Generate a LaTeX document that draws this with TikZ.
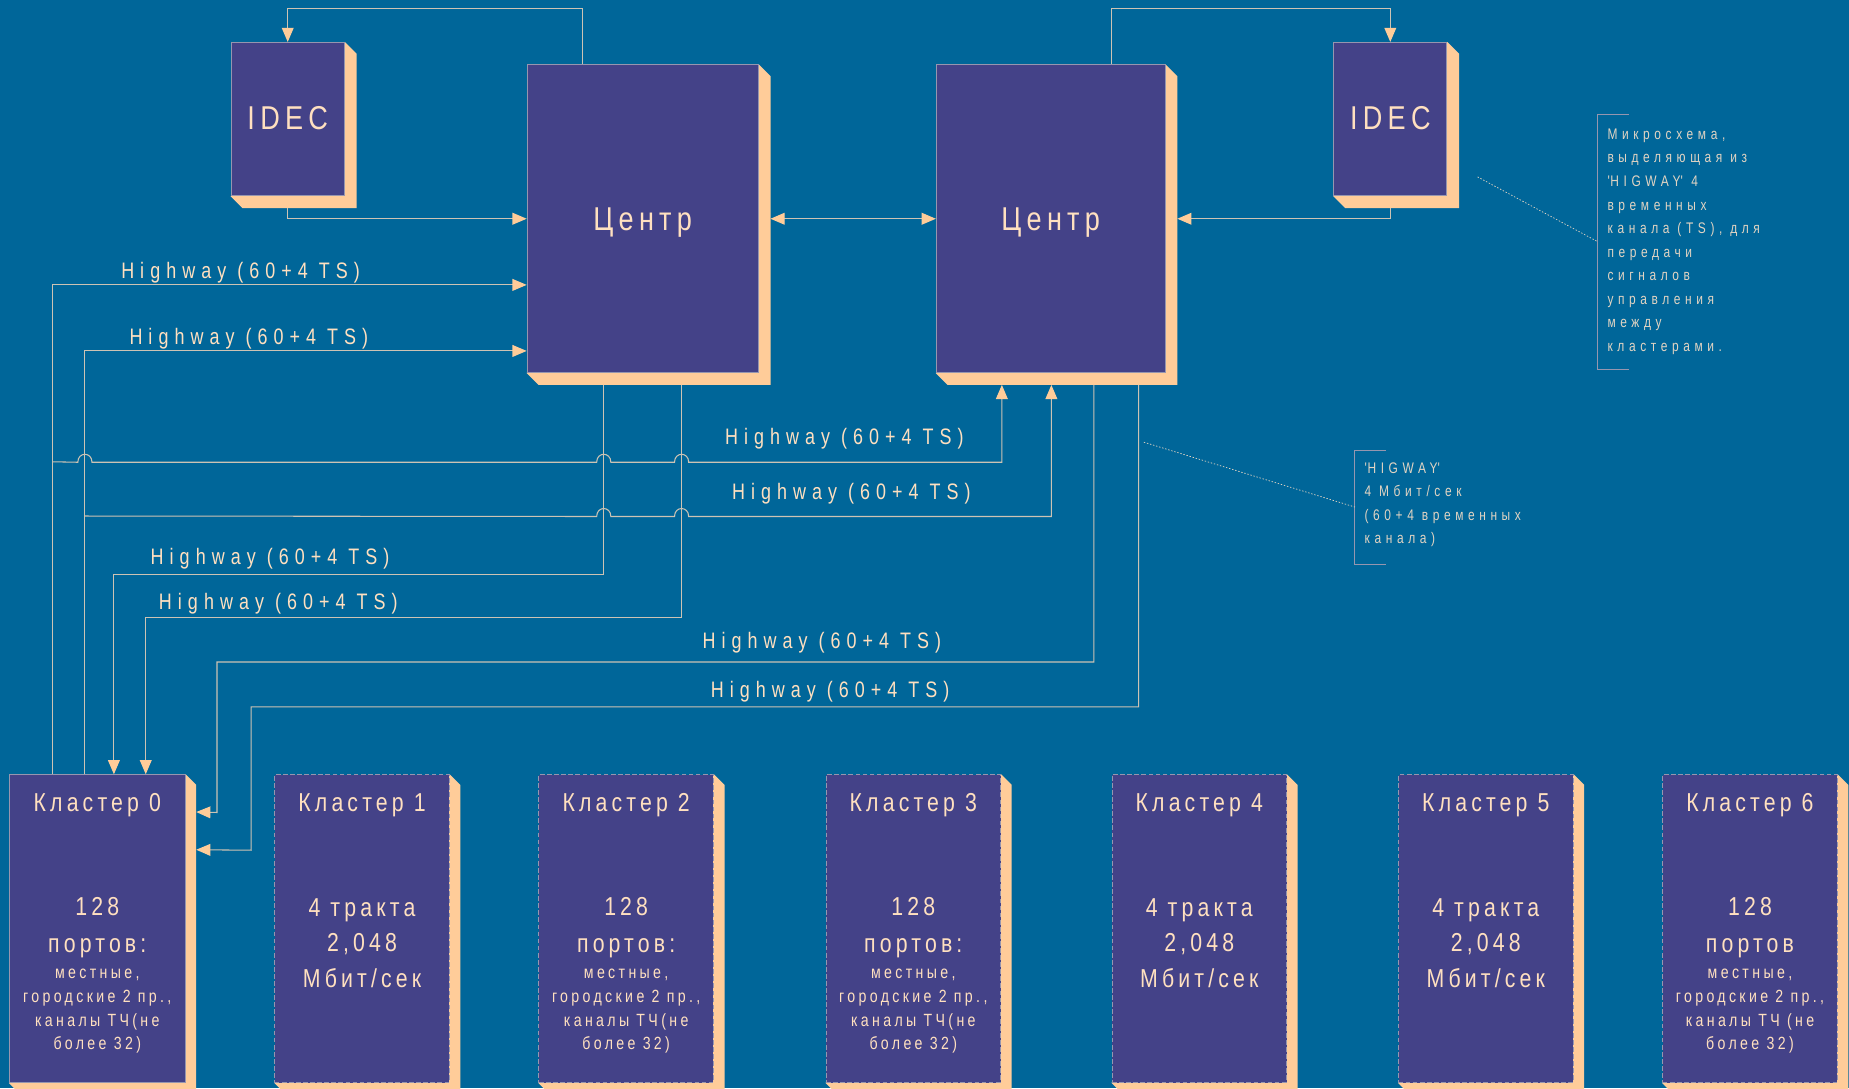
\documentclass[tikz,border=0pt]{standalone}
\usepackage{fontspec}
\setmainfont{Liberation Sans}
\newfontfamily\wf[FakeStretch=0.82,LetterSpace=16]{Liberation Sans}
\newfontfamily\hwyf[FakeStretch=0.80,LetterSpace=27]{Liberation Sans}
\newfontfamily\smf[FakeStretch=0.80,LetterSpace=19]{Liberation Sans}
\newfontfamily\nf[FakeStretch=0.78,LetterSpace=30]{Liberation Sans}
\usetikzlibrary{arrows.meta,calc}
\definecolor{bgblue}{RGB}{0,102,153}
\definecolor{boxfill}{RGB}{68,66,136}
\definecolor{peach}{RGB}{255,204,153}
\definecolor{txt}{RGB}{255,224,192}
\definecolor{wire}{RGB}{205,195,180}
\definecolor{edgec}{RGB}{150,150,175}
\definecolor{notec}{RGB}{225,212,195}
\pgfdeclarelayer{bglayer}
\pgfdeclarelayer{shlayer}
\pgfsetlayers{bglayer,shlayer,main}
\newcommand\boxshadow[2]{%
  \begin{pgfonlayer}{shlayer}
  \fill[peach] (#1.north east) -- ++(#2,#2) -- ($(#1.south east)+(#2,#2)$) -- ($(#1.south west)+(#2,#2)$) -- (#1.south west) -- cycle;
  \end{pgfonlayer}}
\newcommand\clshadow[1]{%
  \begin{pgfonlayer}{shlayer}
  \fill[peach] (#1.north east) -- ++(9,9) -- ($(#1.south east)+(9,6)$) -- ($(#1.south west)+(6,6)$) -- (#1.south west) -- cycle;
  \end{pgfonlayer}}
\tikzset{
  ptip/.tip={Triangle[length=12pt,width=10pt,color=peach]},
  blk/.style={rectangle, draw=edgec, line width=0.8pt, fill=boxfill, inner sep=0pt},
  dblk/.style={blk, dash pattern=on 4pt off 2pt},
  wirel/.style={draw=wire, line width=0.9pt},
  arr/.style={wirel, -ptip},
  darr/.style={wirel, ptip-ptip},
  hw/.style={text=txt, inner sep=0pt, font=\hwyf\fontsize{19}{22}\selectfont},
  cen/.style={text=txt, inner sep=0pt, font=\wf\fontsize{28}{30}\selectfont},
  ttl/.style={text=txt, inner sep=0pt, font=\wf\fontsize{22}{26}\selectfont},
  bigt/.style={text=txt, inner sep=0pt, align=center, font=\wf\fontsize{22}{31}\selectfont},
  bigth/.style={text=txt, inner sep=0pt, align=center, font=\wf\fontsize{22}{30}\selectfont},
  smt/.style={text=txt, inner sep=0pt, align=center, font=\smf\fontsize{15}{20}\selectfont},
  notet/.style={text=notec, inner sep=0pt, align=left, anchor=north west, font=\nf\fontsize{13}{20}\selectfont},
  brk/.style={draw=edgec, line width=0.8pt},
  leader/.style={draw=notec, line width=0.6pt, dash pattern=on 1.2pt off 1.5pt},
}
\begin{document}
\begin{tikzpicture}[x=1pt,y=-1pt]
\useasboundingbox (0,0) rectangle (1568,923);
\begin{pgfonlayer}{bglayer}
\fill[bgblue] (0,0) rectangle (1568,923);
\end{pgfonlayer}

% main blocks
\node[blk, minimum width=96pt, minimum height=130pt] (idecL) at (244,101) {};
\node[blk, minimum width=196pt, minimum height=261pt] (centL) at (545,185.5) {};
\node[blk, minimum width=194pt, minimum height=261pt] (centR) at (891,185.5) {};
\node[blk, minimum width=96pt, minimum height=130pt] (idecR) at (1179,101) {};
\boxshadow{idecL}{10}
\boxshadow{centL}{10}
\boxshadow{centR}{10}
\boxshadow{idecR}{10}
\node[cen] (idecLt) at ($(idecL.center)+(0,-1)$) {IDEC};
\node[cen] (idecRt) at ($(idecR.center)+(0,-1)$) {IDEC};
\node[cen] (centLt) at ($(centL.center)+(0,3)$) {Центр};
\node[cen] (centRt) at ($(centR.center)+(0,3)$) {Центр};

% clusters
\node[blk,  minimum width=149pt, minimum height=261pt] (k0) at (82.5,787.5) {};
\node[dblk, minimum width=148pt, minimum height=261pt] (k1) at (307,787.5) {};
\node[dblk, minimum width=148pt, minimum height=261pt] (k2) at (531,787.5) {};
\node[dblk, minimum width=148pt, minimum height=261pt] (k3) at (774.5,787.5) {};
\node[dblk, minimum width=148pt, minimum height=261pt] (k4) at (1017,787.5) {};
\node[dblk, minimum width=148pt, minimum height=261pt] (k5) at (1260,787.5) {};
\node[dblk, minimum width=148pt, minimum height=261pt] (k6) at (1484,787.5) {};
\foreach \k in {k0,k1,k2,k3,k4,k5,k6} {\clshadow{\k}}

\foreach \k/\t in {k0/0,k1/1,k2/2,k3/3,k4/4,k5/5,k6/6}
  \node[ttl] (\k t) at ($(\k.north)+(0,26)$) {Кластер \t};

\foreach \k in {k0,k2,k3} {
  \node[bigt] (\k b) at ($(\k.north)+(0,130)$) {128\\портов:};
  \node[smt] (\k s) at ($(\k.north)+(0,201)$) {местные,\\городские 2 пр.,\\каналы ТЧ(не\\более 32)};
}
\node[bigt] (k6b) at ($(k6.north)+(0,130)$) {128\\портов};
\node[smt] (k6s) at ($(k6.north)+(0,201)$) {местные,\\городские 2 пр.,\\каналы ТЧ (не\\более 32)};
\foreach \k in {k1,k4,k5}
  \node[bigth] (\k b) at ($(\k.north)+(0,143)$) {4 тракта\\2,048\\Мбит/сек};

% IDEC / Centr connections
\draw[arr] ($(centL.north west)+(47,0)$) -- ++(0,-47) -| (idecL.north);
\draw[arr] ($(idecL.south)+(0,10)$) |- (centL.west);
\draw[darr] ($(centL.east)+(10,0)$) -- (centR.west);
\draw[arr] ($(centR.north west)+(149,0)$) -- ++(0,-47) -| (idecR.north);
\draw[arr] ($(idecR.south)+(0,10)$) |- ($(centR.east)+(10,0)$);

% highways
\draw[arr] ($(k0.north west)+(37,0)$) |- ($(centL.north west)+(0,187)$);
\draw[arr] ($(k0.north west)+(64,0)$) |- ($(centL.north west)+(0,243)$);
\draw[arr] ($(k0.north west)+(37,-265)$) -- (66,392)
   .. controls +(0,-9) and +(0,-9) .. (78,392) -- (506,392)
   .. controls +(0,-9) and +(0,-9) .. (518,392) -- (572,392)
   .. controls +(0,-9) and +(0,-9) .. (584,392) -| ($(centR.south west)+(56,10)$);
\draw[arr] ($(k0.north west)+(64,-219)$) -- (506,438)
   .. controls +(0,-9) and +(0,-9) .. (518,438) -- (572,438)
   .. controls +(0,-9) and +(0,-9) .. (584,438) -| ($(centR.south west)+(98,10)$);
\draw[arr] ($(centL.south west)+(65,10)$) -- ++(0,161) -| ($(k0.north west)+(89,0)$);
\draw[arr] ($(centL.south west)+(131,10)$) -- ++(0,197) -| ($(k0.north west)+(116,0)$);
\draw[arr] ($(centR.south west)+(134,10)$) -- ++(0,235) -| (184,689) -- ($(k0.north east)+(9,32)$);
\draw[arr] ($(centR.south west)+(172,10)$) -- ++(0,273) -| (213,721) -- ($(k0.north east)+(9,64)$);

\node[hw] (hl1) at (204,231) {Highway (60+4 TS)};
\node[hw] (hl2) at (211,287) {Highway (60+4 TS)};
\node[hw] (hl3) at (716,372) {Highway (60+4 TS)};
\node[hw] (hl4) at (722,419) {Highway (60+4 TS)};
\node[hw] (hl5) at (229,474) {Highway (60+4 TS)};
\node[hw] (hl6) at (236,512) {Highway (60+4 TS)};
\node[hw] (hl7) at (697,545) {Highway (60+4 TS)};
\node[hw] (hl8) at (704,587) {Highway (60+4 TS)};

% notes
\node[notet] (n1) at (1363,109) {Микросхема,\\выделяющая из\\\textquotesingle HIGWAY\textquotesingle\ 4\\временных\\канала (TS), для\\передачи\\сигналов\\управления\\между\\кластерами.};
\draw[brk] (1381,97) -- (1355,97) -- (1355,313) -- (1381,313);
\coordinate (ld1) at (1253,150);
\coordinate (br1) at (1355,205);
\draw[leader] (ld1) -- (br1);

\node[notet] (n2) at (1157,392) {\textquotesingle HIGWAY\textquotesingle\\4 Мбит/сек\\(60+4 временных\\канала)};
\draw[brk] (1175,382) -- (1149,382) -- (1149,479) -- (1175,479);
\coordinate (ld2) at (970,375);
\coordinate (br2) at (1149,430);
\draw[leader] (ld2) -- (br2);
\end{tikzpicture}
\end{document}
